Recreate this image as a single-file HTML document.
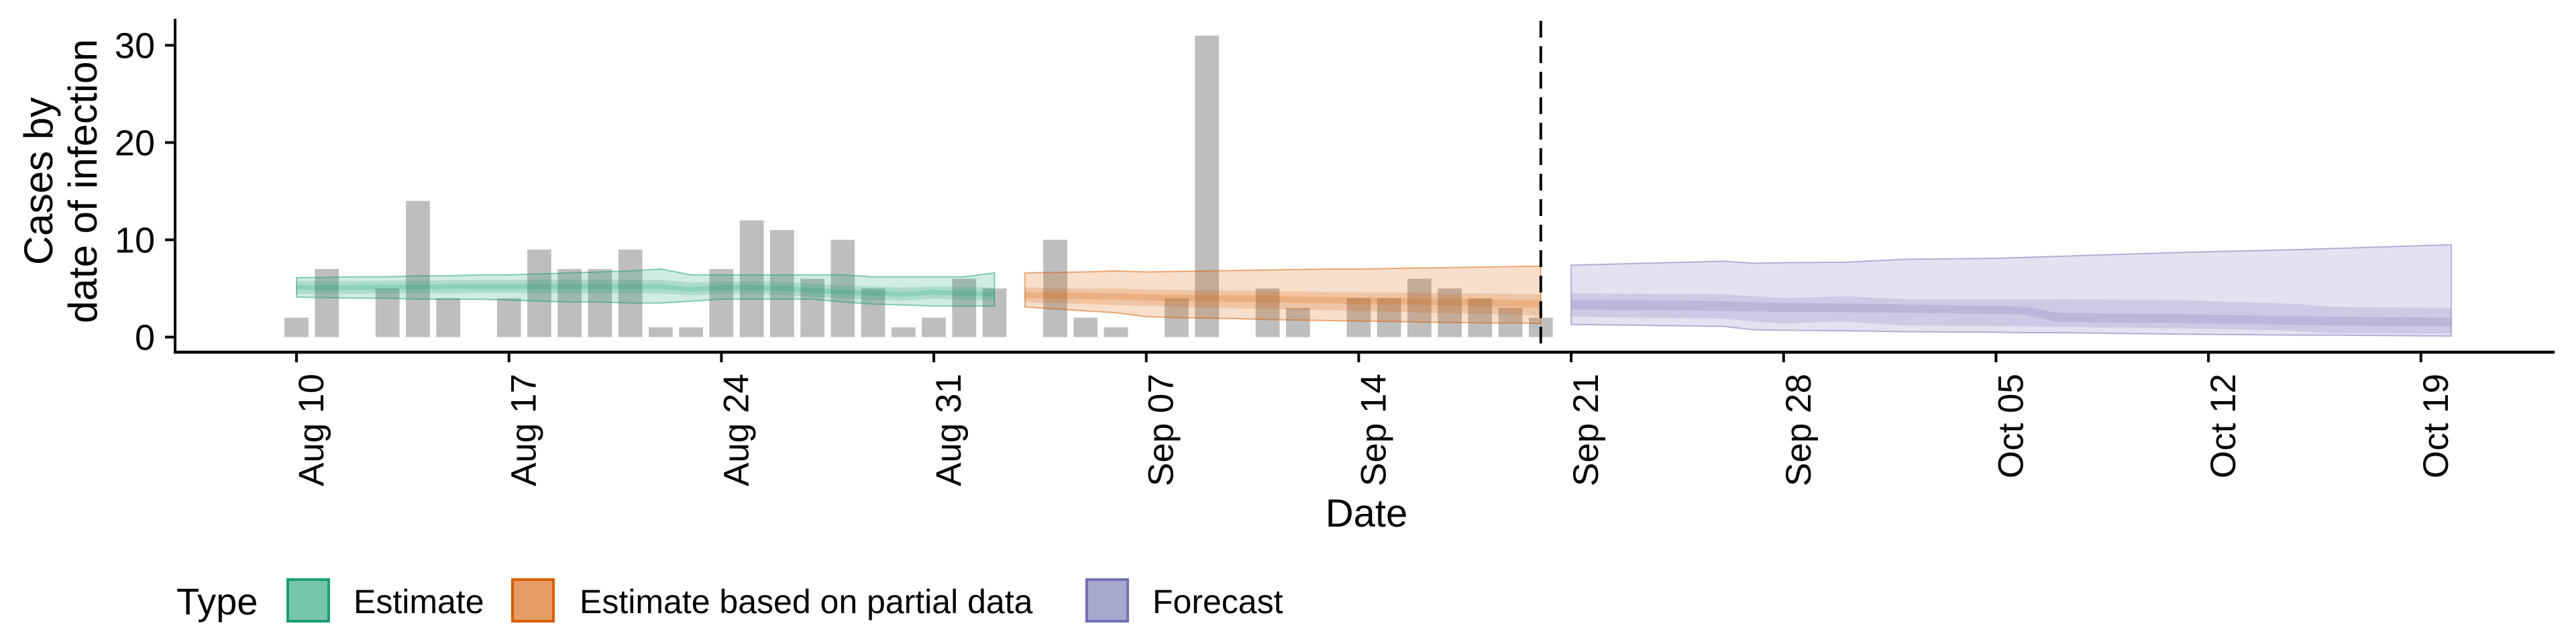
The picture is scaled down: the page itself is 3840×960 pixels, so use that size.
<!DOCTYPE html>
<html><head><meta charset="utf-8"><style>
html,body{margin:0;padding:0;background:#fff;}
svg{display:block;font-family:"Liberation Sans",sans-serif;}
</style></head><body>
<svg id="chart" width="3840" height="960" viewBox="0 0 3840 960" xmlns="http://www.w3.org/2000/svg">
<g id="plot"></g>
<g id="axes"></g>
<text x="2037" y="785" font-size="58" text-anchor="middle">Date</text>
<text transform="translate(78,270) rotate(-90)" font-size="60" text-anchor="middle">Cases by</text>
<text transform="translate(144,270) rotate(-90)" font-size="60" text-anchor="middle">date of infection</text>
<g>
<text x="263" y="916" font-size="56">Type</text>
<rect x="429" y="864" width="61" height="62" fill="#77c5ab" stroke="#1b9e77" stroke-width="4"/>
<text x="527" y="914" font-size="50">Estimate</text>
<rect x="764" y="864" width="61" height="62" fill="#e69c65" stroke="#d95f02" stroke-width="4"/>
<text x="864" y="914" font-size="50">Estimate based on partial data</text>
<rect x="1620" y="864" width="61" height="62" fill="#aaa7cf" stroke="#7570b3" stroke-width="4"/>
<text x="1718" y="914" font-size="50">Forecast</text>
</g>
</svg>
<script>
// ---- data ----
const barDays   = [0,1,3,4,5,7,8,9,10,11,12,13,14,15,16,17,18,19,20,21,22,23,25,26,27,29,30,32,33,35,36,37,38,39,40,41];
const barValues = [2,7,5,14,4,4,9,7,7,9,1,1,7,12,11,6,10,5,1,2,6,5,10,2,1,4,31,5,3,4,4,6,5,4,3,2];

const estDays  = [0,1,2,3,4,5,6,7,8,9,10,11,12,13,14,15,16,17,18,19,20,21,22,23];
const estHi90  = [6.1,6.15,6.2,6.2,6.3,6.3,6.4,6.4,6.5,6.6,6.7,6.8,7.0,6.4,6.4,6.4,6.4,6.4,6.4,6.2,6.2,6.2,6.2,6.6];
const estLo90  = [4.1,4.05,4.0,4.0,3.9,3.9,3.9,3.8,3.7,3.6,3.6,3.5,3.5,3.7,3.9,3.9,3.9,3.9,3.6,3.4,3.3,3.2,3.2,3.2];
const estHi50  = [5.75,5.75,5.75,5.8,5.8,5.85,5.85,5.85,5.9,5.9,5.9,5.9,5.9,5.6,5.7,5.7,5.7,5.5,5.3,5.2,5.1,5.2,5.15,5.1];
const estLo50  = [4.45,4.45,4.45,4.5,4.5,4.5,4.55,4.55,4.5,4.5,4.5,4.5,4.5,4.3,4.45,4.45,4.35,4.15,4.0,3.85,3.75,3.95,3.85,3.75];
const estHi20  = [5.35,5.35,5.35,5.4,5.4,5.45,5.45,5.45,5.45,5.45,5.45,5.45,5.45,5.15,5.35,5.35,5.25,5.05,4.85,4.75,4.65,4.85,4.75,4.65];
const estLo20  = [4.85,4.85,4.85,4.9,4.9,4.95,4.95,4.95,4.95,4.95,4.95,4.95,4.95,4.65,4.85,4.85,4.75,4.55,4.35,4.25,4.15,4.35,4.25,4.15];

const parDays  = [24,25,26,27,28,29,30,31,32,33,34,35,36,37,38,39,40,41];
const parHi90  = [6.6,6.65,6.7,6.8,6.7,6.75,6.8,6.85,6.9,6.95,7.0,7.0,7.05,7.1,7.15,7.2,7.25,7.3];
const parLo90  = [3.1,2.9,2.7,2.5,2.1,2.0,1.95,1.9,1.8,1.75,1.7,1.65,1.6,1.55,1.5,1.45,1.45,1.4];
const parHi50  = [5.1,5.05,5.0,5.0,4.9,4.85,4.8,4.8,4.75,4.7,4.65,4.6,4.6,4.55,4.5,4.5,4.45,4.4];
const parLo50  = [3.6,3.5,3.4,3.3,3.2,3.1,3.0,2.95,2.9,2.8,2.75,2.7,2.6,2.5,2.45,2.4,2.3,2.2];
const parHi20  = [4.6,4.6,4.55,4.5,4.4,4.35,4.3,4.3,4.25,4.2,4.15,4.1,4.05,4.0,3.95,3.9,3.85,3.8];
const parLo20  = [4.0,3.95,3.9,3.85,3.75,3.7,3.65,3.6,3.55,3.5,3.45,3.4,3.35,3.3,3.25,3.2,3.1,3.0];

const fcDays   = [42,47,48,49,51,53,56,57,58,62,64,66,67,71];
const fcHi90   = [7.4,7.8,7.6,7.65,7.7,8.0,8.1,8.2,8.3,8.7,8.85,9.0,9.1,9.5];
const fcLo90   = [1.3,1.1,0.75,0.7,0.65,0.55,0.5,0.45,0.45,0.3,0.25,0.2,0.2,0.1];
const fcHi50   = [4.5,4.4,4.2,4.0,4.2,3.9,3.9,3.9,3.9,3.8,3.6,3.4,3.1,3.0];
const fcLo50   = [2.1,1.9,1.6,1.4,1.6,1.2,1.15,1.1,1.05,0.9,0.8,0.6,0.4,0.35];
const fcHi20   = [3.85,3.7,3.6,3.5,3.45,3.35,3.2,3.1,2.5,2.35,2.25,2.15,2.1,2.0];
const fcLo20   = [2.85,2.7,2.65,2.6,2.55,2.5,2.4,2.3,1.55,1.45,1.35,1.25,1.2,1.1];

const yTicks   = [0,10,20,30];
const xTickDays   = [0,7,14,21,28,35,42,49,56,63,70];
const xTickLabels = ["Aug 10","Aug 17","Aug 24","Aug 31","Sep 07","Sep 14","Sep 21","Sep 28","Oct 05","Oct 12","Oct 19"];
const nowcastDay = 41;

// ---- scales ----
const X0 = 442, DAY = 45.24, Y0 = 502.5, UNIT = 14.5;
function xs(d){ return X0 + d*DAY; }
function ys(v){ return Y0 - v*UNIT; }
const NS = "http://www.w3.org/2000/svg";
const plot = document.getElementById('plot');
const axes = document.getElementById('axes');
function mk(tag, attrs, parent){ const e=document.createElementNS(NS,tag); for(const k in attrs) e.setAttribute(k,attrs[k]); parent.appendChild(e); return e; }

// bars
barDays.forEach((d,i)=>{
  const w = DAY*0.79;
  const r = mk('rect',{x:xs(d)-w/2, y:ys(barValues[i]), width:w, height:Y0-ys(barValues[i]), fill:'#bebebe'}, plot);
  
  
});

function band(days, hi, lo, color, name, outline){
  let p = days.map((d,i)=>xs(d)+','+ys(hi[i]));
  for(let i=days.length-1;i>=0;i--) p.push(xs(days[i])+','+ys(lo[i]));
  const poly = mk('polygon',{points:p.join(' '), fill:color, 'fill-opacity':0.2, stroke:outline?color:'none', 'stroke-opacity':0.5, 'stroke-width':2}, plot);
  
  
}
const series = [
  [estDays,[estHi90,estLo90],[estHi50,estLo50],[estHi20,estLo20],'#1b9e77','estimate'],
  [parDays,[parHi90,parLo90],[parHi50,parLo50],[parHi20,parLo20],'#d95f02','partial-estimate'],
  [fcDays,[fcHi90,fcLo90],[fcHi50,fcLo50],[fcHi20,fcLo20],'#7570b3','forecast']
];
series.forEach(s=>{
  band(s[0], s[1][0], s[1][1], s[4], s[5]+'-band-90', true);
  band(s[0], s[2][0], s[2][1], s[4], s[5]+'-band-50', false);
  band(s[0], s[3][0], s[3][1], s[4], s[5]+'-band-20', false);
});

// nowcast line
const vl = mk('line',{x1:xs(nowcastDay), x2:xs(nowcastDay), y1:31, y2:525, stroke:'#000', 'stroke-width':4, 'stroke-dasharray':'25 13'}, plot);



// axes
const ya = mk('line',{x1:261,x2:261,y1:28,y2:527,stroke:'#000','stroke-width':4}, axes);


const xa = mk('line',{x1:259,x2:3808,y1:525,y2:525,stroke:'#000','stroke-width':4.5}, axes);


yTicks.forEach(v=>{
  const t = mk('line',{x1:246,x2:261,y1:ys(v),y2:ys(v),stroke:'#000','stroke-width':4}, axes);
  
  
  const l = mk('text',{x:231,y:ys(v)+19,'font-size':54,'text-anchor':'end'}, axes);
  l.textContent = v;
  
  
});
xTickDays.forEach((d,i)=>{
  const t = mk('line',{x1:xs(d),x2:xs(d),y1:525,y2:540,stroke:'#000','stroke-width':4}, axes);
  
  
  const l = mk('text',{transform:'translate('+(xs(d)+40)+',557) rotate(-90)','font-size':53,'text-anchor':'end'}, axes);
  l.textContent = xTickLabels[i];
  
  
});
</script>
</body></html>
